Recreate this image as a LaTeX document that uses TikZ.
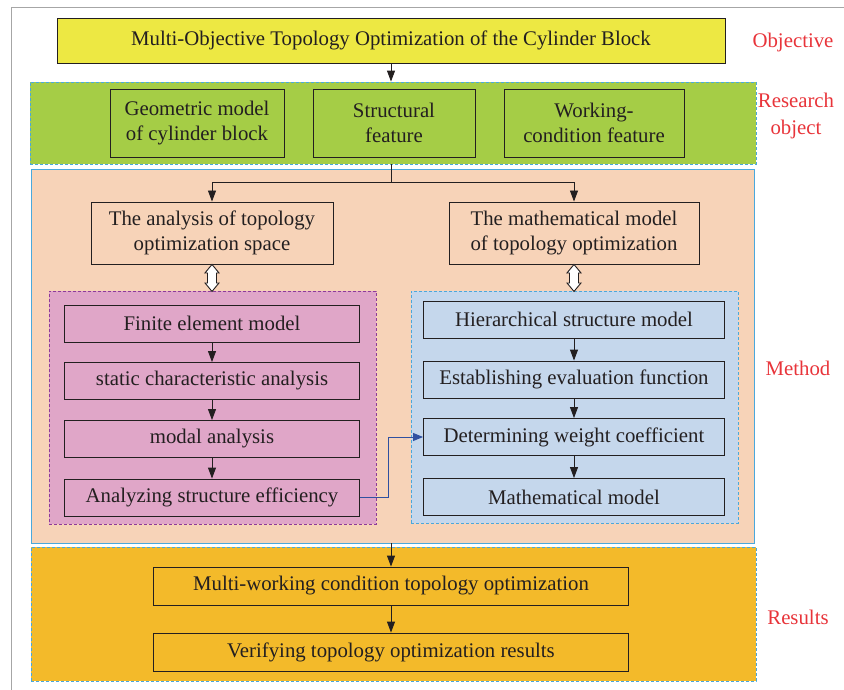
\documentclass[tikz,border=0pt]{standalone}
\usepackage{fontspec}
\setmainfont{Liberation Serif}
\usetikzlibrary{arrows.meta,calc}
\definecolor{ink}{HTML}{231F20}
\definecolor{cyel}{HTML}{EDE843}
\definecolor{cgreen}{HTML}{A5CD46}
\definecolor{cpeach}{HTML}{F7D3B8}
\definecolor{cpink}{HTML}{E0A6C8}
\definecolor{cblue}{HTML}{C5D7EC}
\definecolor{corange}{HTML}{F3BA2A}
\definecolor{cred}{HTML}{E8343A}
\definecolor{cdash}{HTML}{4AA8DC}
\definecolor{cpurple}{HTML}{8E3A9A}
\definecolor{cconn}{HTML}{3050A0}
\begin{document}
\begin{tikzpicture}[x=1pt,y=-1pt,
  txt/.style={font=\fontsize{20.8}{25}\selectfont, text=ink},
  box/.style={txt, draw=ink, line width=0.9pt, inner sep=0pt, align=center},
  dashreg/.style={draw=cdash, line width=0.8pt, dash pattern=on 3pt off 2pt},
  lab/.style={txt, text=cred, align=center},
  arr/.style={draw=ink, line width=0.9pt, -{Triangle[length=11pt,width=8pt]}},
  ln/.style={draw=ink, line width=0.9pt},
  hollow/.style={draw=ink, line width=0.9pt, fill=white, line join=miter}
]
\useasboundingbox (0,0) rectangle (844,690);
\draw[gray!70, line width=1pt] (11,690) -- (11,8) -- (844,8);

% regions
\node[dashreg, fill=cgreen, minimum width=726, minimum height=82, inner sep=0pt] (green) at (393,123) {};
\node[draw=cdash, line width=0.9pt, fill=cpeach, minimum width=723, minimum height=374, inner sep=0pt] (peach) at (392.5,356) {};
\node[draw=cpurple, line width=0.8pt, dash pattern=on 3pt off 2pt, fill=cpink, minimum width=327, minimum height=233, inner sep=0pt] (pink) at (212.5,407.5) {};
\node[dashreg, fill=cblue, minimum width=327, minimum height=232, inner sep=0pt] (blue) at (574.5,407) {};
\node[dashreg, fill=corange, minimum width=725, minimum height=134, inner sep=0pt] (orange) at (393.5,614) {};

% objective
\node[box, fill=cyel, minimum width=668, minimum height=45] (obj) at (391,40.5) {Multi-Objective Topology Optimization of the Cylinder Block};

% research object
\node[box, fill=cgreen, minimum width=174, minimum height=68] (g1) at (197,123) {Geometric model\\of cylinder block};
\node[box, fill=cgreen, minimum width=162, minimum height=68] (g2) at (394,123) {Structural\\feature};
\node[box, fill=cgreen, minimum width=180, minimum height=68] (g3) at (594,123) {Working-\\condition feature};

% method
\node[box, fill=cpeach, minimum width=242, minimum height=62] (A) at (212,233) {The analysis of topology\\optimization space};
\node[box, fill=cpeach, minimum width=250, minimum height=62] (B) at (574,233) {The mathematical model\\of topology optimization};

\node[box, fill=cpink, minimum width=295, minimum height=37] (p1) at (212,323.5) {Finite element model};
\node[box, fill=cpink, minimum width=295, minimum height=37] (p2) at (212,381) {static characteristic analysis};
\node[box, fill=cpink, minimum width=295, minimum height=37] (p3) at (212,439) {modal analysis};
\node[box, fill=cpink, minimum width=295, minimum height=37] (p4) at (212,497.5) {Analyzing structure efficiency};

\node[box, fill=cblue, minimum width=301, minimum height=37] (b1) at (574,319.5) {Hierarchical structure model};
\node[box, fill=cblue, minimum width=301, minimum height=37] (b2) at (574,379.5) {Establishing evaluation function};
\node[box, fill=cblue, minimum width=301, minimum height=37] (b3) at (574,437) {Determining weight coefficient};
\node[box, fill=cblue, minimum width=301, minimum height=37] (b4) at (574,497) {Mathematical model};

% results
\node[box, fill=corange, minimum width=475, minimum height=38] (r1) at (391,586) {Multi-working condition topology optimization};
\node[box, fill=corange, minimum width=475, minimum height=38] (r2) at (391,652) {Verifying topology optimization results};

% side labels
\node[lab] (lobj) at (793,42) {Objective};
\node[lab, font=\fontsize{20.8}{27}\selectfont] (lres) at (796,116) {Research\\object};
\node[lab] (lmet) at (798,368) {Method};
\node[lab] (lresu) at (798,617) {Results};

% connectors
\draw[arr] (obj.south) -- (obj.south |- green.north);
\coordinate (split) at (391,182);
\draw[ln] (obj.south |- green.south) -- (split);
\draw[arr] (split) -| (A.north);
\draw[arr] (split) -| (B.north);

\draw[hollow] (A.south) -- ++(7,8.5) -- ++(-2.5,0) -- ++(0,10) -- ++(2.5,0) -- ++(-7,8.5) -- ++(-7,-8.5) -- ++(2.5,0) -- ++(0,-10) -- ++(-2.5,0) -- cycle;
\draw[hollow] (B.south) -- ++(7,8.5) -- ++(-2.5,0) -- ++(0,10) -- ++(2.5,0) -- ++(-7,8.5) -- ++(-7,-8.5) -- ++(2.5,0) -- ++(0,-10) -- ++(-2.5,0) -- cycle;

\draw[arr] (p1) -- (p2);
\draw[arr] (p2) -- (p3);
\draw[arr] (p3) -- (p4);
\draw[arr] (b1) -- (b2);
\draw[arr] (b2) -- (b3);
\draw[arr] (b3) -- (b4);

\draw[draw=cconn, line width=0.9pt, -{Triangle[length=10pt,width=8pt]}] (p4.east) -- ++(28,0) |- (b3.west);

\draw[arr] (obj.south |- peach.south) -- (r1.north);
\draw[arr] (r1) -- (r2);
\end{tikzpicture}
\end{document}
